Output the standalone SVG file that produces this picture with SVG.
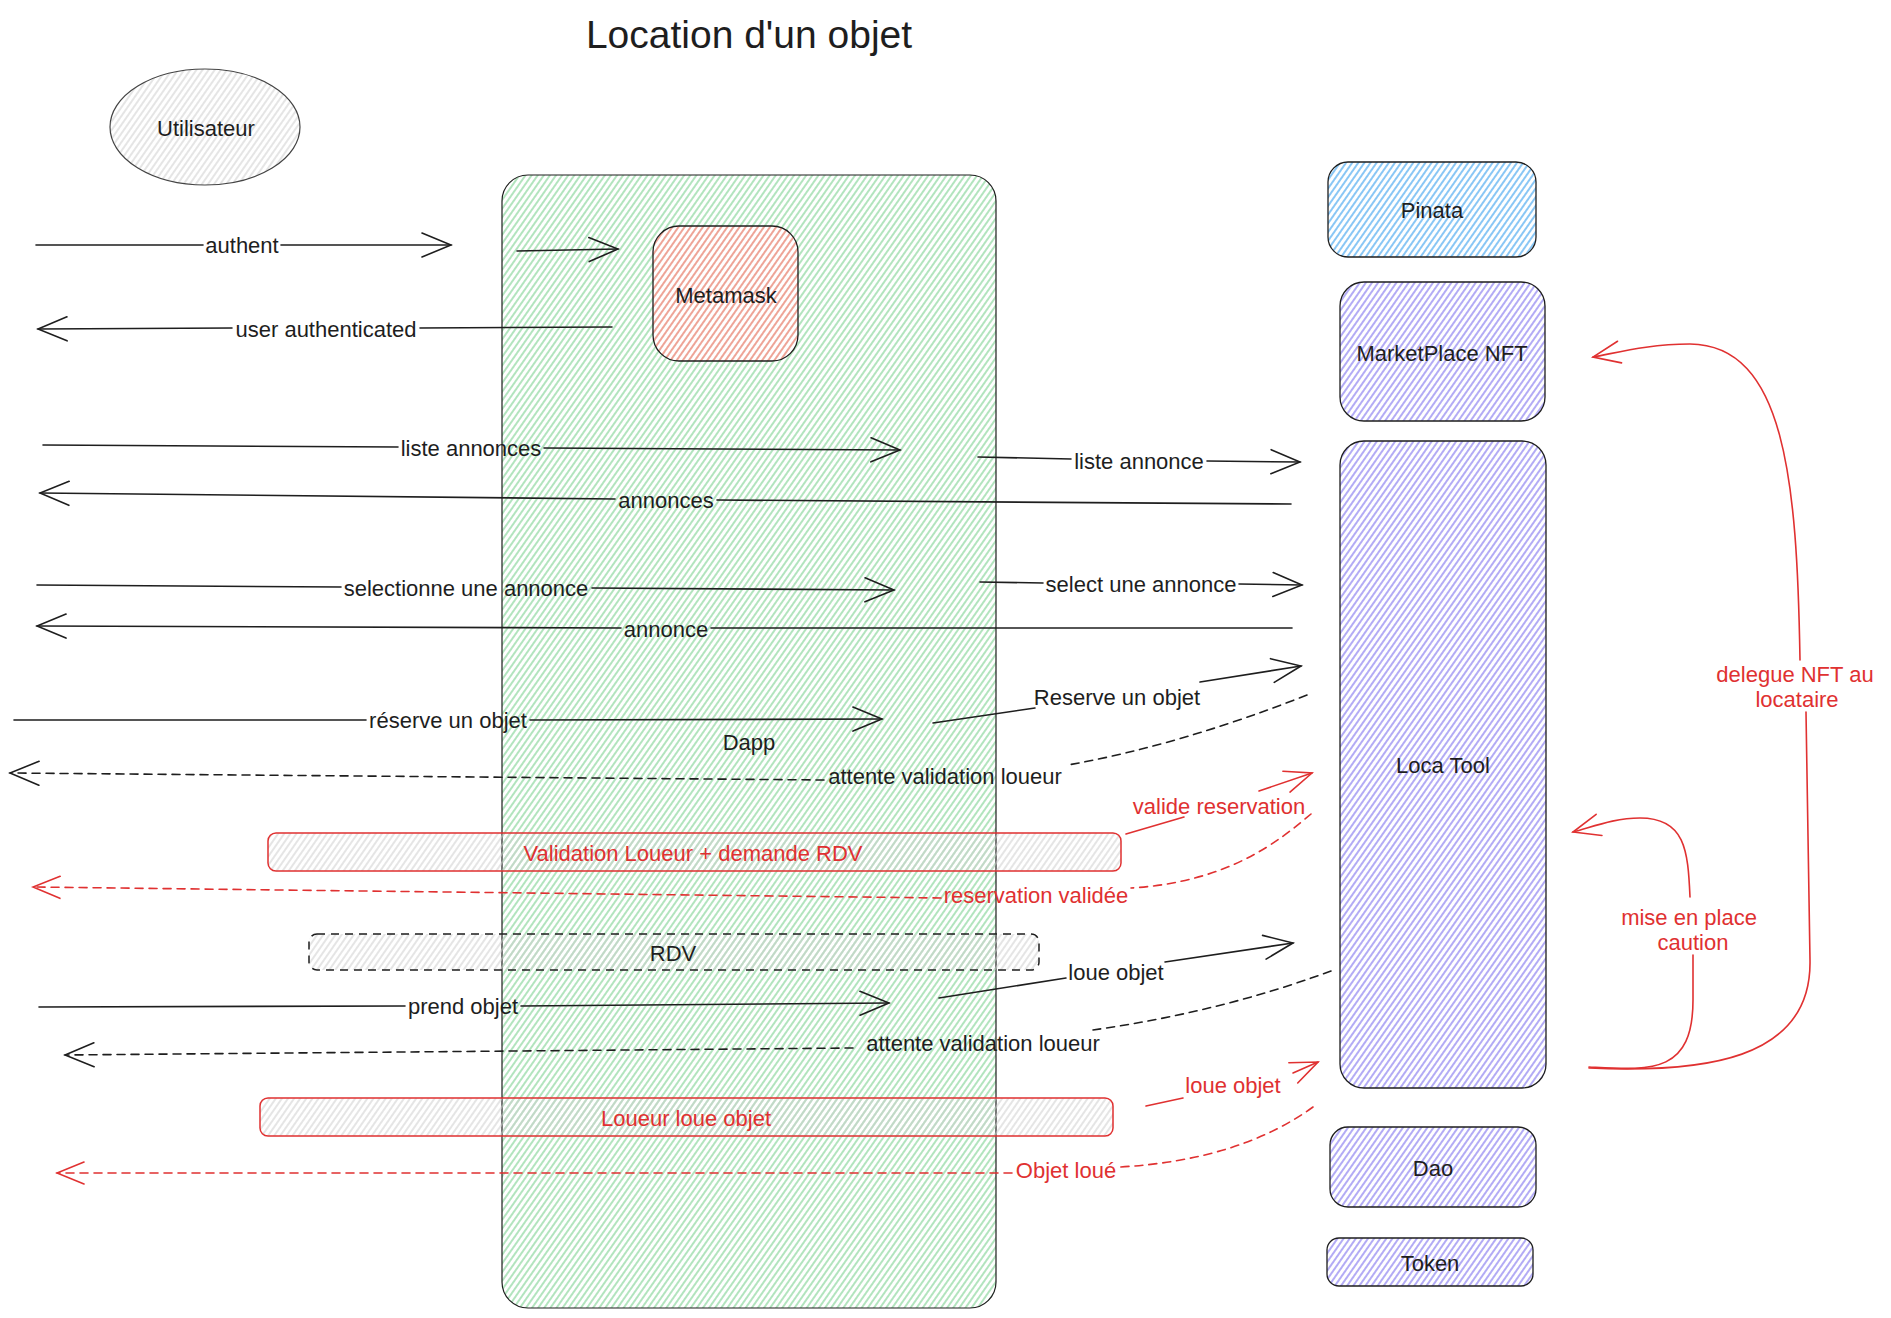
<svg xmlns="http://www.w3.org/2000/svg" width="1891" height="1318" viewBox="0 0 1891 1318">
<style>
.t{font-family:"Liberation Sans",Arial,sans-serif;font-size:22px;fill:#1e1e1e;text-anchor:middle;dominant-baseline:central}
.title{font-size:39px}
.r{fill:#e03131}
.c{fill:none;stroke:#1e1e1e;stroke-width:1.6;stroke-linecap:round}
.cr{stroke:#e03131}
.d{stroke-dasharray:8 6}
.nb{stroke:#1e1e1e;stroke-width:1.3}
</style>
<defs>
<pattern id="hg" width="5" height="5" patternUnits="userSpaceOnUse" patternTransform="rotate(35)"><line x1="1" y1="0" x2="1" y2="5" stroke="#7fd292" stroke-width="1.2"/></pattern>
<pattern id="hp" width="5" height="5" patternUnits="userSpaceOnUse" patternTransform="rotate(35)"><line x1="1" y1="0" x2="1" y2="5" stroke="#8a7ef0" stroke-width="1.3"/></pattern>
<pattern id="hb" width="5" height="5" patternUnits="userSpaceOnUse" patternTransform="rotate(35)"><line x1="1" y1="0" x2="1" y2="5" stroke="#4aa8f0" stroke-width="1.3"/></pattern>
<pattern id="hr" width="5" height="5" patternUnits="userSpaceOnUse" patternTransform="rotate(35)"><line x1="1" y1="0" x2="1" y2="5" stroke="#e5735f" stroke-width="1.3"/></pattern>
<pattern id="hgr" width="5" height="5" patternUnits="userSpaceOnUse" patternTransform="rotate(35)"><line x1="1" y1="0" x2="1" y2="5" stroke="#cfcfcf" stroke-width="1.1"/></pattern>
<marker id="ah" markerWidth="34" markerHeight="28" refX="32" refY="14" orient="auto" markerUnits="userSpaceOnUse" viewBox="0 0 34 28"><path d="M3,2 L32,14 L3,26" fill="none" stroke="#1e1e1e" stroke-width="1.6" stroke-linecap="round"/></marker>
<marker id="ahr" markerWidth="34" markerHeight="28" refX="32" refY="14" orient="auto" markerUnits="userSpaceOnUse" viewBox="0 0 34 28"><path d="M5,3 L32,14 L5,25" fill="none" stroke="#e03131" stroke-width="1.6" stroke-linecap="round"/></marker>
</defs>
<rect width="1891" height="1318" fill="#ffffff"/>
<text class="t title" x="749" y="34">Location d'un objet</text>

<g id="utilisateur">
<ellipse cx="205" cy="127" rx="95" ry="58" fill="url(#hgr)" stroke="#444" stroke-width="1.2"/>
<text class="t" x="206" y="128">Utilisateur</text>
</g>

<g id="dapp">
<rect x="502" y="175" width="494" height="1133" rx="26" fill="url(#hg)" stroke="#1e1e1e" stroke-width="1.2"/>
<text class="t" x="749" y="742">Dapp</text>
</g>

<g id="metamask">
<rect x="653" y="226" width="145" height="135" rx="26" fill="#ffffff"/>
<rect x="653" y="226" width="145" height="135" rx="26" fill="url(#hr)" class="nb"/>
<text class="t" x="726" y="295">Metamask</text>
</g>

<g id="pinata">
<rect x="1328" y="162" width="208" height="95" rx="20" fill="url(#hb)" class="nb"/>
<text class="t" x="1432" y="210">Pinata</text>
</g>

<g id="marketplace">
<rect x="1340" y="282" width="205" height="139" rx="24" fill="url(#hp)" class="nb"/>
<text class="t" x="1442" y="353">MarketPlace NFT</text>
</g>

<g id="locatool">
<rect x="1340" y="441" width="206" height="647" rx="24" fill="url(#hp)" class="nb"/>
<text class="t" x="1443" y="765">Loca Tool</text>
</g>

<g id="dao">
<rect x="1330" y="1127" width="206" height="80" rx="18" fill="url(#hp)" class="nb"/>
<text class="t" x="1433" y="1168">Dao</text>
</g>

<g id="token">
<rect x="1327" y="1238" width="206" height="48" rx="12" fill="url(#hp)" class="nb"/>
<text class="t" x="1430" y="1263">Token</text>
</g>

<g id="validation">
<rect x="268" y="833" width="853" height="38" rx="8" fill="url(#hgr)" stroke="#e03131" stroke-width="1.5"/>
<text class="t r" x="693" y="853">Validation Loueur + demande RDV</text>
</g>

<g id="rdv">
<rect x="309" y="934" width="730" height="36" rx="8" fill="url(#hgr)" stroke="#1e1e1e" stroke-width="1.5" stroke-dasharray="8 6"/>
<text class="t" x="673" y="953">RDV</text>
</g>

<g id="loueur">
<rect x="260" y="1098" width="853" height="38" rx="8" fill="url(#hgr)" stroke="#e03131" stroke-width="1.5"/>
<text class="t r" x="686" y="1118">Loueur loue objet</text>
</g>

<g id="connectors">
<path class="c" d="M36,245 L203,245"/>
<path class="c" d="M281,245 L451,245" marker-end="url(#ah)"/>
<text class="t" x="242" y="245">authent</text>

<path class="c" d="M517,251 L618,249" marker-end="url(#ah)"/>

<path class="c" d="M612,327 L420,328"/>
<path class="c" d="M232,328 L38,329" marker-end="url(#ah)"/>
<text class="t" x="326" y="329">user authenticated</text>

<path class="c" d="M43,445 L398,447"/>
<path class="c" d="M544,448 L900,450" marker-end="url(#ah)"/>
<text class="t" x="471" y="448">liste annonces</text>

<path class="c" d="M978,457 L1071,459"/>
<path class="c" d="M1207,461 L1300,462" marker-end="url(#ah)"/>
<text class="t" x="1139" y="461">liste annonce</text>

<path class="c" d="M1291,504 L717,500"/>
<path class="c" d="M615,499 L40,493" marker-end="url(#ah)"/>
<text class="t" x="666" y="500">annonces</text>

<path class="c" d="M37,585 L341,587"/>
<path class="c" d="M592,588 L894,590" marker-end="url(#ah)"/>
<text class="t" x="466" y="588">selectionne une annonce</text>

<path class="c" d="M980,582 L1043,583"/>
<path class="c" d="M1239,584 L1302,585" marker-end="url(#ah)"/>
<text class="t" x="1141" y="584">select une annonce</text>

<path class="c" d="M1292,628 L711,628"/>
<path class="c" d="M621,628 L37,626" marker-end="url(#ah)"/>
<text class="t" x="666" y="629">annonce</text>

<path class="c" d="M14,720 L366,720"/>
<path class="c" d="M530,720 L882,719" marker-end="url(#ah)"/>
<text class="t" x="448" y="720">réserve un objet</text>

<path class="c" d="M933,723 L1035,708"/>
<path class="c" d="M1200,682 L1301,666" marker-end="url(#ah)"/>
<text class="t" x="1117" y="697">Reserve un objet</text>

<path class="c d" d="M1307,695 Q1180,745 1068,765"/>
<path class="c d" d="M824,780 L10,773" marker-end="url(#ah)"/>
<text class="t" x="945" y="776">attente validation loueur</text>

<path class="c cr" d="M1126,834 L1184,817"/>
<path class="c cr" d="M1259,791 L1312,773" marker-end="url(#ahr)"/>
<text class="t r" x="1219" y="806">valide reservation</text>

<path class="c cr d" d="M1311,814 C1280,840 1230,882 1131,888"/>
<path class="c cr d" d="M941,898 L33,887" marker-end="url(#ahr)"/>
<text class="t r" x="1036" y="895">reservation validée</text>

<path class="c" d="M39,1007 L405,1006"/>
<path class="c" d="M521,1006 L889,1003" marker-end="url(#ah)"/>
<text class="t" x="463" y="1006">prend objet</text>

<path class="c" d="M939,998 L1066,978"/>
<path class="c" d="M1165,962 L1293,943" marker-end="url(#ah)"/>
<text class="t" x="1116" y="972">loue objet</text>

<path class="c d" d="M1331,971 Q1220,1012 1093,1030"/>
<path class="c d" d="M853,1048 L65,1055" marker-end="url(#ah)"/>
<text class="t" x="983" y="1043">attente validation loueur</text>

<path class="c cr" d="M1146,1106 L1183,1098"/>
<path class="c cr" d="M1293,1073 L1318,1062" marker-end="url(#ahr)"/>
<text class="t r" x="1233" y="1085">loue objet</text>

<path class="c cr d" d="M1313,1107 Q1240,1160 1120,1167"/>
<path class="c cr d" d="M1012,1173 L57,1173" marker-end="url(#ahr)"/>
<text class="t r" x="1066" y="1170">Objet loué</text>

<path class="c cr" d="M1589,1068 C1700,1073 1812,1062 1810,960 L1806,712"/>
<path class="c cr" d="M1800,660 C1797,480 1785,345 1690,344 C1650,344 1620,352 1593,357" marker-end="url(#ahr)"/>
<text class="t r" x="1795" y="674">delegue NFT au</text>
<text class="t r" x="1797" y="699">locataire</text>

<path class="c cr" d="M1589,1067 C1650,1070 1693,1075 1693,1000 L1693,955"/>
<path class="c cr" d="M1690,897 C1688,850 1685,818 1640,818 C1615,818 1595,826 1573,832" marker-end="url(#ahr)"/>
<text class="t r" x="1689" y="917">mise en place</text>
<text class="t r" x="1693" y="942">caution</text>
</g>
</svg>
